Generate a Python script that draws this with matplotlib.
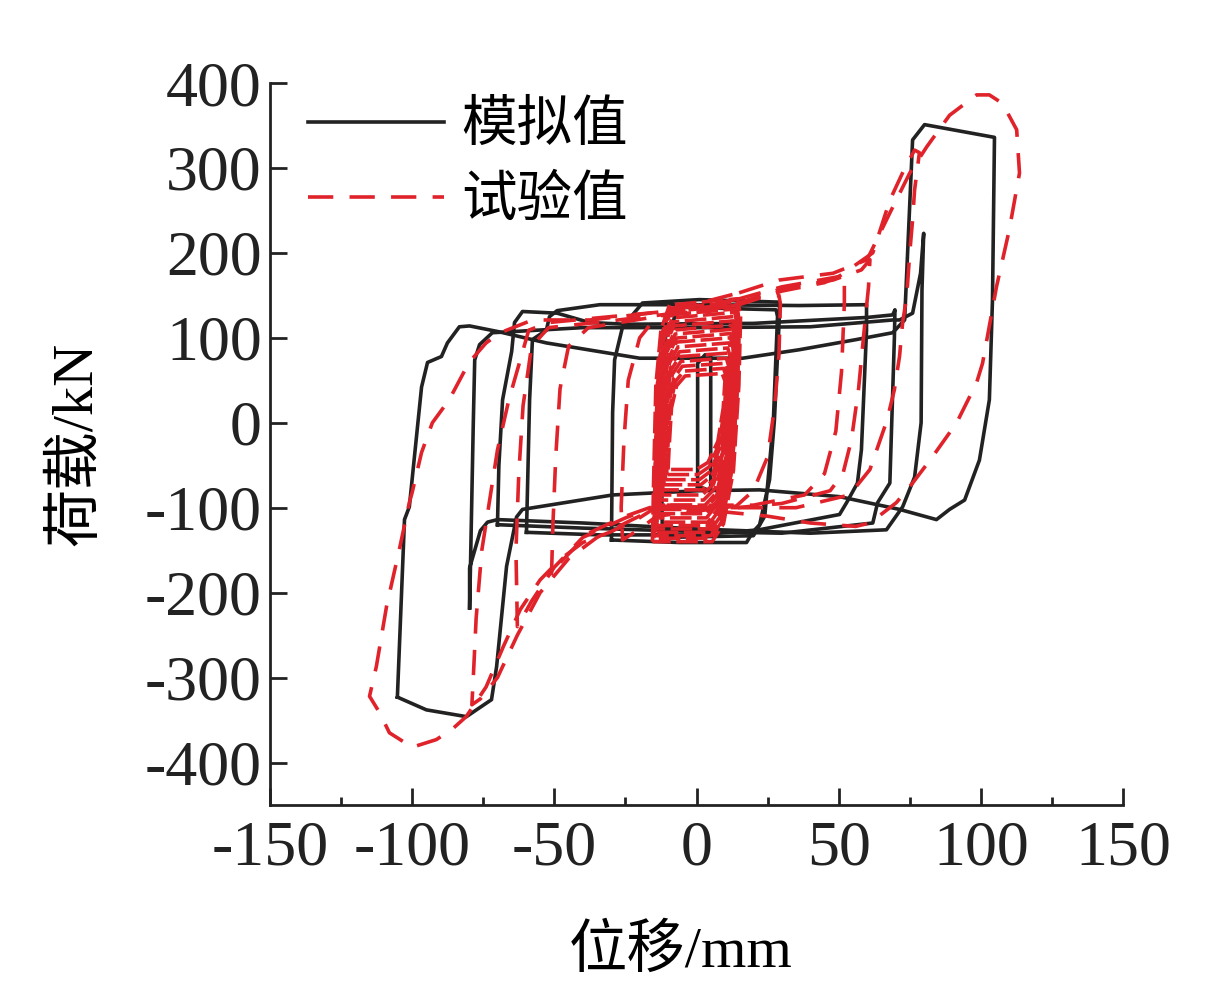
import matplotlib
matplotlib.use('Agg')
import matplotlib.pyplot as plt

# ---- simulation loops (模拟值): displacement mm / load kN
sim_x1 = [-105.2, -102.7, -101.0, -96.7, -94.6, -89.7, -87.6, -83.4, -79.8, -69.3, -52.8, -20.0, 16.2, 36.2,
          56.3, 69.0, 73.2, 76.0, 80.2, 104.8, 104.1, 103.0, 99.5, 94.3, 89.0, 84.4, 71.4, 50.3, 22.2, 1.0,
          -29.5, -61.2, -63.3, -66.8, -70.3, -72.1, -77.4, -80.9, -95.0, -105.2]
sim_y1 = [-323, -114, -99, 42, 71, 78, 94, 113, 114, 107, 94, 76, 76, 86,
          98, 106, 121, 333, 351, 336, 145, 27, -44, -91, -102, -114, -102, -87, -79, -80,
          -85, -102, -111, -169, -287, -326, -338, -346, -338, -323]

sim_x2 = [-79.8, -79.5, -78.5, -78.0, -76.3, -71.8, -40.0, 0.0, 40.0, 69.0, 71.4, 76.0, 78.8, 79.9,
          79.3, 79.0, 76.7, 72.5, 66.8, 40.0, 0.0, -40.0, -70.0, -73.5, -76.0, -79.8, -79.8]
sim_y2 = [-218, -170, 0, 74, 92, 106, 112, 112, 113, 121, 121, 129, 176, 223,
          156, 0, -64, -99, -126, -130, -125, -118, -114, -117, -127, -171, -218]

sim_x3 = [-70.0, -69.5, -68.2, -65.0, -64.0, -61.2, -49.0, -37.6, -25.0, 20.0, 60.0, 69.0, 69.8,
          69.6, 68.0, 63.7, 62.0, 30.0, 0.0, -40.0, -70.0]
sim_y3 = [-120, -50, 27, 84, 118, 131, 129, 118, 116, 117, 124, 127, 133,
          100, -71, -94, -118, -130, -128, -124, -120]

sim_x4 = [-59.8, -58.7, -57.7, -52.8, -51.7, -49.0, -34.0, 1.0, 36.0, 59.8, 59.8, 58.0, 56.6, 52.8,
          50.3, 22.0, 1.0, -34.0, -59.8]
sim_y4 = [-129, 27, 98, 109, 125, 132, 139, 139, 138, 139, 109, -32, -71, -94,
          -108, -126, -132, -132, -129]

sim_x5 = [-29.9, -29.5, -28.8, -26.0, -19.0, 1.0, 29.2, 29.2, 27.4, 25.7, 22.2, 19.7, 17.6, -6.0, -29.9]
sim_y5 = [-138, 12, 74, 113, 141, 145, 142, 129, 3, -67, -120, -129, -141, -141, -138]

sim_x6 = [-12.0, -12.5, -11.0, -6.0, 28.0, 28.5, 27.0, 24.0, 20.0, -12.0]
sim_y6 = [-135, 0, 100, 136, 133, 125, 0, -110, -133, -135]

sim_x7 = [0.4, 0.4, 3.0, 5.0, 5.0, 0.4]
sim_y7 = [-75, 70, 80, 80, -80, -75]

# ---- test loops (试验值)
test_x1 = [15, 29, 48, 60, 68, 75, 81, 89, 98.5, 103, 107.6, 112.6, 113.6, 110, 105.5, 100.6, 98.5, 91.5,
           83, 76, 70.3, 61, 56, 40, 25, 10, -5, -14, -21, -30.6, -40, -48, -55, -62, -68, -74, -81,
           -86, -91.5, -100, -108, -111.5, -115, -112.6, -109, -104.5, -101, -100, -96.7, -92.9, -87,
           -80, -74, -69, -57.7, -37.6, -16.5, 0, 15]
test_y1 = [153, 168, 176, 192, 247, 294, 325, 362, 386, 386, 376, 345, 294, 227, 160, 70, 47, 0,
           -40, -71, -94, -118, -122, -118, -110, -105, -100, -99, -114, -129, -141, -161, -185, -220, -264, -311, -346,
           -361, -373, -382, -365, -341, -322, -287, -216, -149, -94, -82, -35, 0, 27,
           71, 94, 106, 121, 121, 129, 140, 153]

test_x2 = [14, 30, 50, 62, 68, 73, 76.7, 78.4, 76.7, 76, 75, 73.9, 72.5, 71.4, 69.6, 67, 61, 53.8,
           35, 15, -14, -25, -35, -45, -55, -63, -70, -76, -79, -78.5, -77.5, -75.5, -74, -70, -66,
           -59, -52, -30, -14, 0, 14]
test_y2 = [145, 160, 172, 200, 262, 298, 321, 318, 274, 239, 200, 148, 118, 78, 39, 3, -55, -85,
           -100, -100, -100, -118, -135, -160, -200, -250, -300, -325, -332, -300, -230, -150, -118, -32, 27,
           109, 118, 125, 130, 138, 145]

test_x3 = [14, 30, 48, 58, 61, 60.5, 59, 57, 54.5, 51.5, 47, 30, 14, -14, -25, -40, -50, -58, -63,
           -63.5, -62.5, -61, -58, -52, -30, 0, 14]
test_y3 = [140, 158, 168, 180, 192, 160, 110, 40, -20, -60, -80, -95, -100, -98, -112, -135, -170, -210, -240,
           -150, -60, 20, 90, 112, 120, 132, 140]

test_x4 = [14, 30, 45, 52, 52, 51, 49, 45, 38, 20, -14, -25, -38, -48, -51, -50.5, -49.5, -48, -45,
           -38, -14, 14]
test_y4 = [138, 155, 165, 175, 140, 60, -10, -60, -85, -97, -97, -110, -130, -165, -180, -120, -40, 40, 90,
           112, 125, 138]

test_x5 = [14, 22, 29, 29.5, 29, 27.5, 25, 20, 14, -14, -20, -26, -26.5, -25.5, -24, -20, -14, 0, 14]
test_y5 = [140, 148, 150, 140, 80, 20, -40, -80, -98, -110, -125, -138, -100, -20, 50, 100, 125, 135, 140]

# small cycles in the middle band: half amplitude (mm), peak load, valley load
band_amp = [10.0, 10.5, 11, 11.5, 12, 12, 12.5, 13, 13, 13.5, 13.5, 14, 14, 14.5, 14.5, 15, 15, 15.5]
band_top = [58, 64, 70, 76, 82, 88, 94, 100, 105, 110, 115, 120, 125, 130, 134, 138, 142, 146]
band_bot = [-55, -61, -67, -73, -79, -85, -91, -97, -102, -107, -112, -117, -121, -125, -129, -133, -136, -140]

x_ticks = [-150, -100, -50, 0, 50, 100, 150]
y_ticks = [-400, -300, -200, -100, 0, 100, 200, 300, 400]

serif_cjk = ['Liberation Serif', 'Noto Sans CJK SC']
black = '#222222'
red = '#e0232a'
dash = (7, 4.5)

fig = plt.figure(figsize=(12.26, 10.07), dpi=100)
ax = fig.add_axes([270 / 1226, 1 - 805 / 1007, 853 / 1226, 722 / 1007])

sim_loops = [(sim_x1, sim_y1), (sim_x2, sim_y2), (sim_x3, sim_y3), (sim_x4, sim_y4),
             (sim_x5, sim_y5), (sim_x6, sim_y6), (sim_x7, sim_y7)]
for i, (xs, ys) in enumerate(sim_loops):
    ax.plot(xs, ys, color=black, lw=2.6, label='模拟值' if i == 0 else None)

# band cycles (dense, so they read almost solid)
for a, t, b in zip(band_amp, band_top, band_bot):
    bx = [-a, -a + 0.4, -a + 1.2, -a + 3.0, -a + 6, a - 1, a, a - 0.6, a - 2.5, a - 6, a - 10, -a]
    by = [b, 0.5 * b, 0.3 * t, 0.75 * t, 0.95 * t, t, 0.85 * t, 0.3 * t, 0.4 * b, 0.85 * b, b, b]
    ax.plot(bx, by, color=red, lw=2.6, dashes=(6, 1.5))

test_loops = [(test_x1, test_y1), (test_x2, test_y2), (test_x3, test_y3), (test_x4, test_y4), (test_x5, test_y5)]
for i, (xs, ys) in enumerate(test_loops):
    ax.plot(xs, ys, color=red, lw=2.6, dashes=dash, label='试验值' if i == 0 else None)

ax.set_xlim(-150, 150)
ax.set_ylim(-450, 400)
ax.set_xticks(x_ticks)
ax.set_xticks([-125, -75, -25, 25, 75, 125], minor=True)
ax.set_yticks(y_ticks)
ax.set_xticklabels([str(v) for v in x_ticks], family='Liberation Serif', fontsize=46)
ax.set_yticklabels([str(v) for v in y_ticks], family='Liberation Serif', fontsize=46)
ax.tick_params(axis='x', which='major', direction='in', length=12, width=2, pad=11, colors='#222222')
ax.tick_params(axis='x', which='minor', direction='in', length=6, width=2, colors='#222222')
ax.tick_params(axis='y', which='major', direction='in', length=12, width=2, pad=6, colors='#222222')

for side in ['top', 'right']:
    ax.spines[side].set_visible(False)
for side in ['left', 'bottom']:
    ax.spines[side].set_linewidth(2)
    ax.spines[side].set_color('#222222')

ax.set_xlabel('位移/mm', family=serif_cjk, fontsize=42)
ax.xaxis.set_label_coords(0.482, -0.165)
ax.set_ylabel('荷载/kN', family=serif_cjk, fontsize=42, labelpad=30)

leg = ax.legend(loc='upper left', bbox_to_anchor=(38 / 853, 0.975), frameon=False,
                prop={'family': serif_cjk, 'size': 40}, handlelength=2.45,
                handletextpad=0.3, labelspacing=0.42, borderpad=0, borderaxespad=0)

plt.savefig('out.png', dpi=100)
